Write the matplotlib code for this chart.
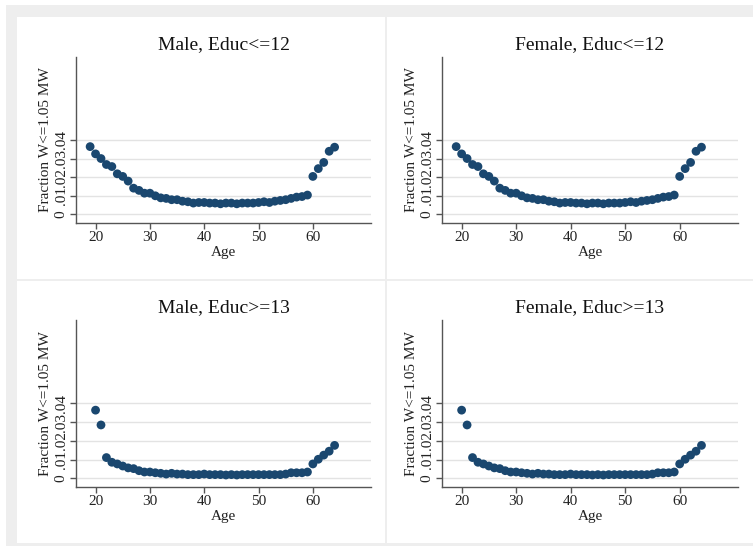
import matplotlib
matplotlib.use("Agg")
import matplotlib.pyplot as plt
from matplotlib.patches import Rectangle

# Share of workers earning at most 1.05 x the minimum wage, by age
ages_low = list(range(19, 65))
ages_high = list(range(20, 65))

male_low = [0.0364, 0.0325, 0.0300, 0.0268, 0.0257, 0.0218, 0.0204, 0.0179,
            0.0141, 0.0129, 0.0114, 0.0114, 0.0100, 0.0089, 0.0086, 0.0079,
            0.0079, 0.0071, 0.0068, 0.0061, 0.0064, 0.0064, 0.0061, 0.0061,
            0.0057, 0.0061, 0.0061, 0.0057, 0.0061, 0.0061, 0.0061, 0.0064,
            0.0068, 0.0064, 0.0071, 0.0075, 0.0079, 0.0086, 0.0093, 0.0096,
            0.0104, 0.0204, 0.0246, 0.0279, 0.0339, 0.0361]
female_low = list(male_low)

male_high = [0.0364, 0.0285, 0.0111, 0.0086, 0.0077, 0.0066, 0.0056, 0.0052,
             0.0041, 0.0034, 0.0034, 0.0030, 0.0027, 0.0023, 0.0027, 0.0023,
             0.0023, 0.0020, 0.0020, 0.0020, 0.0023, 0.0020, 0.0020, 0.0020,
             0.0018, 0.0020, 0.0018, 0.0020, 0.0020, 0.0020, 0.0020, 0.0020,
             0.0020, 0.0020, 0.0020, 0.0023, 0.0030, 0.0030, 0.0030, 0.0034,
             0.0077, 0.0102, 0.0124, 0.0145, 0.0176]
female_high = list(male_high)

titles = ["Male, Educ<=12", "Female, Educ<=12", "Male, Educ>=13", "Female, Educ>=13"]
series = [(ages_low, male_low), (ages_low, female_low),
          (ages_high, male_high), (ages_high, female_high)]

x_ticks = [20, 30, 40, 50, 60]
y_ticks = [0, 0.01, 0.02, 0.03, 0.04]
y_tick_labels = ["0", ".01", ".02", ".03", ".04"]

W, H = 753, 546
NAVY = "#1a476f"
plt.rcParams["font.family"] = ["Liberation Serif", "DejaVu Serif"]

fig = plt.figure(figsize=(W / 100, H / 100), dpi=100)
fig.patch.set_facecolor("white")

def fx(px):
    return px / W

def fy(py):
    return 1 - py / H

def rect(l, t, r, b, color):
    fig.add_artist(Rectangle((fx(l), fy(b)), fx(r - l), (b - t) / H,
                             transform=fig.transFigure, facecolor=color,
                             edgecolor="none", zorder=0))

# grey graph region behind the four panels
rect(6, 5, 753, 546, "#eeeeee")

# white panel backgrounds (left, top, right, bottom in pixels)
panels = [(17, 17, 385, 279), (387, 17, 753, 279),
          (17, 281, 385, 543), (387, 281, 753, 543)]
for l, t, r, b in panels:
    rect(l, t, r, b, "white")

# axes boxes in pixels (left, top, right, bottom)
boxes = [(76, 57, 371, 223), (442, 57, 738, 223),
         (76, 320, 371, 487), (442, 320, 738, 487)]

for (l, t, r, b), title, (xs, ys) in zip(boxes, titles, series):
    ax = fig.add_axes([fx(l), fy(b), fx(r - l), (b - t) / H])
    ax.set_facecolor("white")
    ax.set_xlim(16.4, 70.7)
    ax.set_ylim(-0.0046, 0.0845)
    for v in y_ticks:
        ax.axhline(v, color="#e3e3e3", lw=1.0, zorder=1)
    ax.scatter(xs, ys, s=40, color=NAVY, edgecolors="none", zorder=3)
    ax.set_xticks(x_ticks)
    ax.set_yticks(y_ticks)
    ax.set_yticklabels(y_tick_labels, rotation=90, va="center")
    for side in ("top", "right"):
        ax.spines[side].set_visible(False)
    for side in ("left", "bottom"):
        ax.spines[side].set_color("#555555")
        ax.spines[side].set_linewidth(1.0)
    ax.tick_params(axis="both", direction="out", length=4, width=1.0,
                   color="#555555", labelsize=11, labelcolor="#222222", pad=2)
    ax.set_xlabel("Age", fontsize=11, color="#222222", labelpad=1)
    ax.set_ylabel("Fraction W<=1.05 MW", fontsize=11, color="#222222", labelpad=2)
    ax.set_title(title, fontsize=14, color="#111111", pad=6)

fig.savefig("out.png", dpi=100, facecolor=fig.get_facecolor())
